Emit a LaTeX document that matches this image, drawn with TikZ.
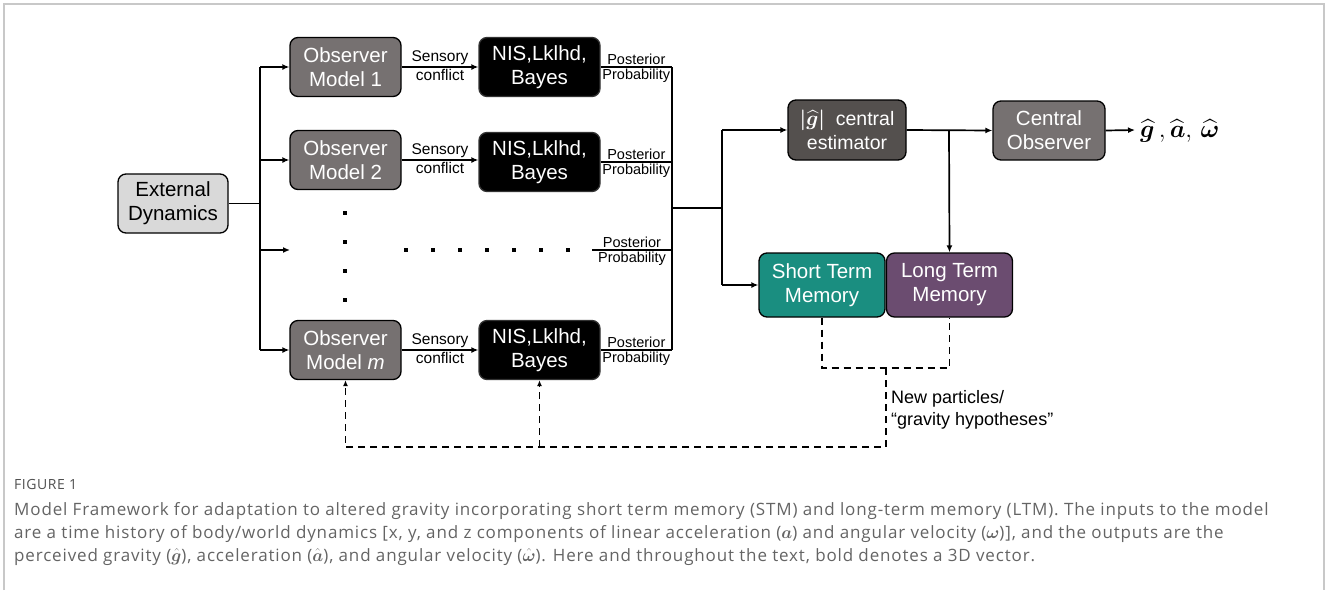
\documentclass[tikz,border=0pt]{standalone}
\usepackage{amsmath,bm}
\usepackage{fontspec}
\setmainfont{Liberation Sans}
\newfontfamily\capfont[LetterSpace=5.0]{Open Sans}
\newfontfamily\figfont[LetterSpace=4.0]{Open Sans}
\usetikzlibrary{arrows.meta}
\definecolor{obsgray}{RGB}{118,113,113}
\definecolor{estgray}{RGB}{84,80,78}
\definecolor{extgray}{RGB}{217,217,217}
\definecolor{stmteal}{RGB}{26,142,128}
\definecolor{ltmpurple}{RGB}{107,76,112}
\definecolor{capgray}{RGB}{100,100,100}
\definecolor{figgray}{RGB}{80,80,80}
\definecolor{framegray}{RGB}{200,200,200}
\tikzset{
  box/.style={draw=black, line width=1.3pt, rounded corners=8pt, align=center,
    inner sep=0pt, text=white, font=\fontsize{20.5}{24}\selectfont},
  obsbox/.style={box, fill=obsgray, minimum width=111pt, minimum height=59pt},
  nisbox/.style={box, fill=black, draw=black!80, minimum width=121pt, minimum height=59pt},
  memobox/.style={box, minimum width=126pt, minimum height=64pt},
  wire/.style={line width=1.7pt},
  arr/.style={wire, -{Latex[length=7pt,width=6pt]}},
  dsh/.style={line width=1.7pt, dash pattern=on 7pt off 5pt},
  small/.style={font=\fontsize{15.5}{17}\selectfont, inner sep=1.5pt},
  tiny/.style={font=\fontsize{14.5}{16}\selectfont, inner sep=1.5pt},
  captext/.style={anchor=base west, inner sep=0pt, text=capgray, font=\capfont\fontsize{17}{20}\selectfont},
}
\begin{document}
\begin{tikzpicture}[x=1pt,y=-1pt]
\useasboundingbox (0,0) rectangle (1328,590);
% frame
\draw[framegray, line width=2pt] (4,590) -- (4,4) -- (1324,4) -- (1324,590);

% nodes
\node[box, fill=extgray, text=black, minimum width=110pt, minimum height=59pt] (ext) at (173,203.5) {External\\Dynamics};
\node[obsbox] (obs1) at (345.5,67) {Observer\\Model 1};
\node[obsbox] (obs2) at (345.5,160) {Observer\\Model 2};
\node[obsbox] (obsm) at (345.5,350) {Observer\\Model \textit{m}};
\node[nisbox] (nis1) at (539.5,67) {NIS,Lklhd,\\Bayes};
\node[nisbox] (nis2) at (539.5,162) {NIS,Lklhd,\\Bayes};
\node[nisbox] (nism) at (539.5,350) {NIS,Lklhd,\\Bayes};
\node[box, fill=estgray, minimum width=118pt, minimum height=60pt, font=\fontsize{19.5}{24}\selectfont] (est) at (847,130)
  {$\bm{\lvert\widehat{g}\rvert}$~~central\\estimator};
\node[box, fill=obsgray, minimum width=112pt, minimum height=59pt] (co) at (1049,130.5) {Central\\Observer};
\node[memobox, fill=stmteal] (stm) at (822,285) {Short Term\\Memory};
\node[memobox, fill=ltmpurple] (ltm) at (949.5,285) {Long Term\\Memory};

% coordinates
\coordinate (trunk) at (260,0);
\coordinate (rowdots) at (290,250);
\coordinate (bus) at (672,0);
\coordinate (bus3) at (592,250);
\coordinate (busmid) at (672,208);
\coordinate (split) at (722,208);
\coordinate (branch) at (949,130);
\coordinate (out) at (1135,130);
\coordinate (dj) at (886,368);
\coordinate (db) at (886,447);

% input trunk
\draw[wire] (ext.east) -- (ext.east -| trunk);
\draw[wire] (obs1.west -| trunk) -- (obsm.west -| trunk);
\draw[arr] (obs1.west -| trunk) -- (obs1.west);
\draw[arr] (obs2.west -| trunk) -- (obs2.west);
\draw[arr] (rowdots -| trunk) -- (rowdots);
\draw[arr] (obsm.west -| trunk) -- (obsm.west);

% sensory conflict
\foreach \a/\b in {obs1/nis1, obs2/nis2, obsm/nism}{
  \draw[arr] (\a.east) -- node[small, above]{Sensory} node[small, below]{conflict} (\a.east -| \b.west);
}

% posterior probability
\foreach \a in {nis1, nis2, nism}{
  \draw[wire] (\a.east) -- node[tiny, above]{Posterior} node[tiny, below]{Probability} (\a.east -| bus);
}
\draw[wire] (bus3) -- node[tiny, above]{Posterior} node[tiny, below]{Probability} (bus3 -| bus);
\draw[wire] (nis1.east -| bus) -- (nism.east -| bus);

% to central estimator and STM
\draw[wire] (busmid) -- (split);
\draw[wire] (split |- est.west) -- (split |- stm.west);
\draw[arr] (split |- est.west) -- (est.west);
\draw[arr] (split |- stm.west) -- (stm.west);

% estimator to central observer and LTM
\draw[arr] (est.east) -- (co.west);
\draw[arr] (branch) -- (ltm.north);
\draw[arr] (co.east) -- (out);
\node[anchor=west, inner sep=0pt, font=\fontsize{23}{24}\selectfont] (outtxt) at (1140,131)
  {$\bm{\widehat{g}}\,,\bm{\widehat{a}},\,\bm{\widehat{\omega}}$};

% dots
\foreach \y in {213,242,271,300}{\fill (345,\y) ++(-2,-2) rectangle ++(4,4);}
\foreach \k in {0,...,6}{\fill (406+27*\k,250) ++(-2,-2) rectangle ++(4,4);}

% dashed feedback
\draw[dsh] (stm.south) -- (stm.south |- dj) -- (ltm.south |- dj) -- (ltm.south);
\draw[dsh, -{Latex[length=6pt,width=5pt]}] (dj) |- (obsm.south |- db) -- (obsm.south);
\draw[dsh, -{Latex[length=6pt,width=5pt]}] (nism.south |- db) -- (nism.south);
\node[anchor=north west, align=left, inner sep=0pt, font=\fontsize{18}{22}\selectfont] (newp) at (891,390)
  {New particles/\\``gravity hypotheses''};

% caption
\node[captext, text=figgray, font=\figfont\fontsize{14}{16}\selectfont] (figlbl) at (14,489) {FIGURE 1};
\node[captext] (cap1) at (14,515) {Model Framework for adaptation to altered gravity incorporating short term memory (STM) and long-term memory (LTM). The inputs to the model};
\node[captext] (cap2) at (14,538) {are a time history of body/world dynamics [x, y, and z components of linear acceleration ($\bm{a}$) and angular velocity ($\bm{\omega}$)], and the outputs are the};
\node[captext] (cap3) at (14,561) {perceived gravity ($\hat{\bm{g}}$), acceleration ($\hat{\bm{a}}$), and angular velocity ($\hat{\bm{\omega}}$). Here and throughout the text, bold denotes a 3D vector.};
\end{tikzpicture}
\end{document}
